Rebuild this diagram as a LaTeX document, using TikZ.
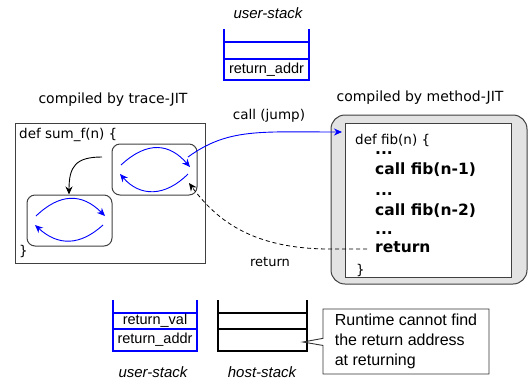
\documentclass[tikz,border=0pt]{standalone}
\usepackage{fontspec}
\setmainfont{DejaVu Sans}
\newfontfamily\arialf{Liberation Sans}
\usetikzlibrary{arrows.meta,shapes.callouts}
\begin{document}
\begin{tikzpicture}[x=1pt,y=-1pt,
  lbl/.style={font=\fontsize{14}{16}\selectfont, inner sep=0},
  code/.style={font=\fontsize{13.5}{16}\selectfont, inner sep=0, anchor=base west},
  bcode/.style={font=\bfseries\fontsize{15.5}{18}\selectfont, inner sep=0, anchor=base west},
  dots/.style={bcode, text height=3pt, text depth=0pt},
  stacktxt/.style={font=\arialf\fontsize{14.5}{16}\selectfont, inner sep=0},
  stacklbl/.style={font=\arialf\itshape\fontsize{15}{17}\selectfont, inner sep=0},
  frame/.style={draw=black!75, line width=1pt, inner sep=0},
  loopbox/.style={frame, rounded corners=8pt, minimum width=85, minimum height=51},
  bstack/.style={draw=blue, line width=1.3pt},
  kstack/.style={draw=black, line width=1.3pt},
  bluearc/.style={draw=blue, line width=0.9pt, -{Stealth[length=8pt,width=7pt]}},
  blackarr/.style={draw=black, line width=0.9pt, -{Stealth[length=8pt,width=7pt]}},
]
\useasboundingbox (0,0) rectangle (531,384);

% ---- top user stack
\node[stacklbl] (ustop) at (268,13) {user-stack};
\draw[bstack] (224,29) -- (224,80) -- (309,80) -- (309,29);
\draw[bstack] (224,42) -- (309,42);
\draw[bstack] (224,59) -- (309,59);
\node[stacktxt] (ratop) at (266.5,70) {return\_addr};

% ---- trace-JIT box
\node[lbl] (tracelbl) at (113,100) {compiled by trace-JIT};
\node[frame, minimum width=190, minimum height=140] (trace) at (110,193) {};
\node[code] (sumdef) at (19,138) {def sum\_f(n) \{};
\node[code] (sumend) at (19,255) {\}};
\node[loopbox] (loopA) at (154.5,169.5) {};
\node[loopbox] (loopB) at (69.5,220.5) {};

% arcs in loop A
\coordinate (a1) at (121,165); \coordinate (a2) at (190,167);
\coordinate (a3) at (188,174); \coordinate (a4) at (120,174);
\draw[bluearc] (a1) .. controls (148,140) and (170,144) .. (a2);
\draw[bluearc] (a3) .. controls (165,197) and (140,197) .. (a4);
% arcs in loop B
\coordinate (b1) at (36,216); \coordinate (b2) at (105,216);
\coordinate (b3) at (103,225); \coordinate (b4) at (35,225);
\draw[bluearc] (b1) .. controls (60,193) and (82,193) .. (b2);
\draw[bluearc] (b3) .. controls (80,246) and (58,246) .. (b4);

% black arrow from A to B
\coordinate (k1) at (102,157);
\draw[blackarr] (k1) .. controls (76,157) and (69,166) .. (loopB.north -| 69,0);

% ---- method-JIT box
\node[lbl] (methlbl) at (420,98) {compiled by method-JIT};
\node[frame, fill=black!11, rounded corners=14pt, minimum width=196, minimum height=169] (fibout) at (429,199.5) {};
\node[frame, fill=white, minimum width=166, minimum height=154] (fibin) at (428,200) {};
\node[code] (fibdef) at (355,144) {def fib(n) \{};
\node[dots] (d1) at (375,154) {...};
\node[bcode] (c1) at (375,174) {call fib(n-1)};
\node[dots] (d2) at (375,195) {...};
\node[bcode] (c2) at (375,215) {call fib(n-2)};
\node[dots] (d3) at (375,234) {...};
\node[bcode] (ret) at (375,252) {return};
\node[code] (fibend) at (356,274) {\}};

% ---- call arrow
\node[lbl, font=\fontsize{13.5}{16}\selectfont] (calllbl) at (269,116) {call (jump)};
\coordinate (cs) at (188,157);
\coordinate (ce) at (342,132);
\draw[bluearc] (cs) .. controls (228,128) and (260,132) .. (ce);

% ---- return (dashed)
\node[lbl, font=\fontsize{13}{16}\selectfont] (retlbl) at (270,262) {return};
\coordinate (rs) at (367,249);
\coordinate (rm) at (330,249);
\coordinate (re) at (189,183);
\draw[blackarr, line width=0.8pt, dash pattern=on 4pt off 3pt] (rs) -- (rm) .. controls (250,249) and (215,218) .. (re);

% ---- bottom user stack
\draw[bstack] (113,300) -- (113,351) -- (197,351) -- (197,300);
\draw[bstack] (113,313) -- (197,313);
\draw[bstack] (113,329) -- (197,329);
\node[stacktxt] (rv) at (155,321) {return\_val};
\node[stacktxt] (ra) at (155,340) {return\_addr};
\node[stacklbl] (uslbl) at (153,372) {user-stack};

% ---- host stack
\draw[kstack] (218,300) -- (218,351) -- (307,351) -- (307,300);
\draw[kstack] (218,313) -- (307,313);
\draw[kstack] (218,329) -- (307,329);
\node[stacklbl] (hslbl) at (262,372) {host-stack};

% ---- callout
\coordinate (hsptr) at (303,342);
\node[rectangle callout, draw=black!80, line width=0.9pt, minimum width=166, minimum height=65,
      align=left, font=\arialf\fontsize{16}{20}\selectfont, inner sep=0,
      callout absolute pointer={(hsptr)}] (note) at (406,341.5)
      {Runtime cannot find\\the return address\\at returning};
\end{tikzpicture}
\end{document}
